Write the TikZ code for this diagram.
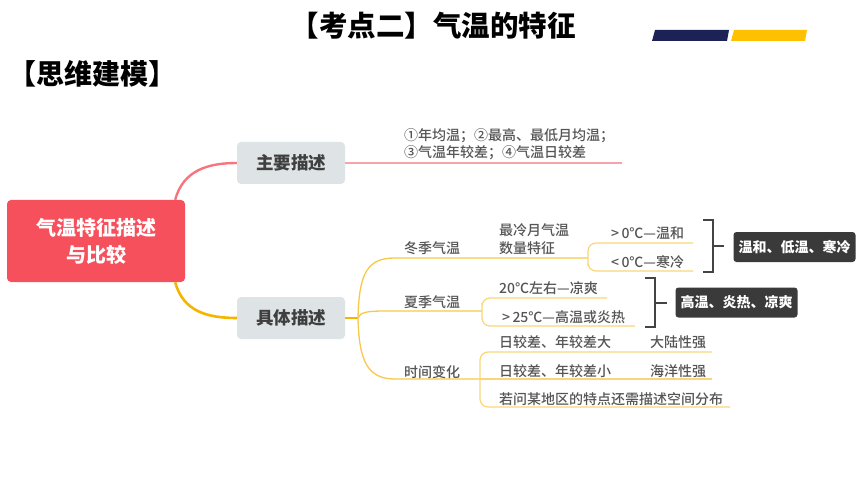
\documentclass[tikz,border=0pt]{standalone}
\usepackage{fontspec}
\setmainfont{Noto Sans CJK SC}
\newfontfamily\lblfont{Noto Sans CJK SC Medium}
\usepackage{tikz}
\usetikzlibrary{calc}
\definecolor{rootred}{HTML}{F6505C}
\definecolor{pinkline}{HTML}{F7757E}
\definecolor{pinkthin}{HTML}{F7A3A9}
\definecolor{gold}{HTML}{F5B400}
\definecolor{linegold}{HTML}{F7C84A}
\definecolor{subgold}{HTML}{F9D57A}
\definecolor{boxgray}{HTML}{DEE3E5}
\definecolor{boxtext}{HTML}{3F3F3F}
\definecolor{lbltext}{HTML}{555555}
\definecolor{tagdark}{HTML}{3A3A3A}
\definecolor{brkgray}{HTML}{444444}
\definecolor{navybar}{HTML}{1C2255}
\definecolor{yellowbar}{HTML}{FFC000}
\newcommand\fsz[2]{\fontsize{#1}{#2}\selectfont}

\begin{document}
\begin{tikzpicture}[x=1pt,y=-1pt,
    rootbox/.style={fill=rootred,rounded corners=4pt,text=white,font=\fsz{20}{27}\bfseries,
      align=center,minimum width=178,minimum height=82},
    graybox/.style={fill=boxgray,rounded corners=4pt,text=boxtext,font=\fsz{17.5}{20}\bfseries,
      minimum width=108,minimum height=42},
    darkbox/.style={fill=tagdark,rounded corners=3pt,text=white,font=\fsz{14}{16}\bfseries,
      minimum width=122,minimum height=30},
    lbl/.style={text=lbltext,font=\lblfont\fsz{14}{17},inner sep=0pt,anchor=west},
    branch/.style={draw=linegold,line width=1.3pt},
    subbr/.style={draw=subgold,line width=1.2pt,rounded corners=8pt},
    brk/.style={draw=brkgray,line width=1.6pt}]
  \useasboundingbox (0,0) rectangle (860,484);

  % heading
  \node[font=\fsz{28.5}{30}\bfseries] (title) at (433,26) {【考点二】气温的特征};
  \node[font=\fsz{28}{30}\bfseries,anchor=west,inner sep=0pt] (subtitle) at (8,74) {【思维建模】};
  \fill[navybar] (655,30) -- (729,30) -- (727,41) -- (652,41) -- cycle;
  \fill[yellowbar] (734,30) -- (807,30) -- (805,41) -- (731,41) -- cycle;

  % main nodes
  \node[rootbox] (root) at (96,241) {气温特征描述\\与比较};
  \node[graybox] (mainbox) at (291,163) {主要描述};
  \node[graybox] (detailbox) at (291,318) {具体描述};

  \coordinate (sumend) at (622,163);
  \coordinate (hub) at (358,318);
  \coordinate (wj) at (588,258);
  \coordinate (wt) at (693,243);
  \coordinate (wb) at (693,271);
  \coordinate (sj) at (482,311);
  \coordinate (st) at (607,298);
  \coordinate (sb) at (635,326);
  \coordinate (tj) at (480,379);
  \coordinate (t1) at (712,352);
  \coordinate (t2) at (712,379);
  \coordinate (t3) at (730,407);

  \draw[pinkline,line width=2.4pt] ([xshift=-10]root.north east) .. controls +(8,-30) and +(-28,0) .. (mainbox.west);
  \draw[pinkthin,line width=1.2pt] (mainbox.east) -- (sumend);
  \draw[gold,line width=2.6pt] ([xshift=-10]root.south east) .. controls +(8,30) and +(-28,0) .. (detailbox.west);
  \draw[gold,line width=1.8pt] (detailbox.east) -- (hub);

  % summary text
  \node[lbl,align=left] (summary) at (404,144.5) {①年均温；②最高、最低月均温；\\③气温年较差；④气温日较差};

  % winter
  \draw[branch] (hub) .. controls (359,272) and (368,258) .. (395,258) -- (wj);
  \draw[subbr] (wt) -| (wj) |- (wb);
  \node[lbl] (winter) at (404,248) {冬季气温};
  \node[lbl,align=left,font=\lblfont\fsz{14}{18}] (winterq) at (499,239) {最冷月气温\\数量特征};
  \node[lbl] (warm) at (611,233) {>\,0℃—温和};
  \node[lbl] (cold) at (611,262) {<\,0℃—寒冷};
  \draw[brk] (703,220) -| (713,272) -- (703,272);
  \draw[brk] (713,246) -- (724,246);
  \node[darkbox] (tagwinter) at (794.5,247) {温和、低温、寒冷};

  % summer
  \draw[branch] (hub) .. controls (360,312) and (368,311) .. (385,311) -- (sj);
  \draw[subbr] (st) -| (sj) |- (sb);
  \node[lbl] (sumlbl) at (404,302) {夏季气温};
  \node[lbl] (cool) at (499,288) {20℃左右—凉爽};
  \node[lbl] (hot) at (502,317) {>\,25℃—高温或炎热};
  \draw[brk] (645,278) -| (655,327) -- (645,327);
  \draw[brk] (655,303) -- (667,303);
  \node[darkbox] (tagsummer) at (736.5,302.5) {高温、炎热、凉爽};

  % time
  \draw[branch] (hub) .. controls (359,362) and (368,379) .. (395,379) -- (tj);
  \draw[subbr] (t1) -| (tj) |- (t3);
  \draw[subbr] (tj) -- (t2);
  \node[lbl] (timelbl) at (404,372) {时间变化};
  \node[lbl] (big) at (499,342) {日较差、年较差大};
  \node[lbl] (contin) at (650,342) {大陆性强};
  \node[lbl] (small) at (499,371) {日较差、年较差小};
  \node[lbl] (ocean) at (650,371) {海洋性强};
  \node[lbl] (space) at (499,399) {若问某地区的特点还需描述空间分布};
\end{tikzpicture}
\end{document}
